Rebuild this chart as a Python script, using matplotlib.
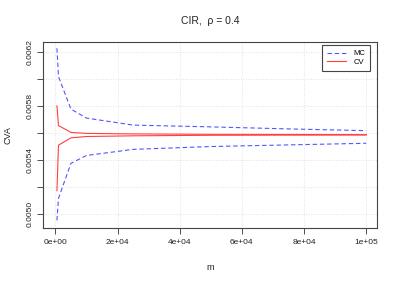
import matplotlib
matplotlib.use("Agg")
import matplotlib.pyplot as plt
from matplotlib.ticker import FixedLocator

plt.rcParams['font.family'] = ['Liberation Sans', 'DejaVu Sans']

m = [500, 1000, 5000, 10000, 25000, 50000, 75000, 100000]
mc_upper = [0.006225, 0.006016, 0.005776, 0.005710, 0.005658, 0.005645, 0.005630, 0.005617]
mc_lower = [0.004955, 0.005118, 0.005376, 0.005434, 0.005479, 0.005500, 0.005512, 0.005524]
cv_upper = [0.005800, 0.005655, 0.005604, 0.005597, 0.005593, 0.005590, 0.005589, 0.005588]
cv_lower = [0.005174, 0.005510, 0.005564, 0.005574, 0.005579, 0.005583, 0.005584, 0.005585]

xticks = [0, 20000, 40000, 60000, 80000, 100000]
xticklabels = ["0e+00", "2e+04", "4e+04", "6e+04", "8e+04", "1e+05"]
yticks = [0.0050, 0.0052, 0.0054, 0.0056, 0.0058, 0.0060, 0.0062]
yticklabels = ["0.0050", "", "0.0054", "", "0.0058", "", "0.0062"]

blue = '#5555ff'
red = '#ff4040'

fig = plt.figure(figsize=(3.99, 2.81), dpi=100)
ax = fig.add_axes([0.1078, 0.1886, 0.8371, 0.6619])

ax.plot(m, mc_upper, color=blue, lw=0.8, ls=(0, (4, 2.5)), label='MC')
ax.plot(m, mc_lower, color=blue, lw=0.8, ls=(0, (4, 2.5)))
ax.plot(m, cv_upper, color=red, lw=0.8, label='CV')
ax.plot(m, cv_lower, color=red, lw=0.8)

ax.set_xlim(-3980, 103480)
ax.set_ylim(0.004899, 0.006271)

ax.xaxis.set_major_locator(FixedLocator(xticks))
ax.set_xticklabels(xticklabels)
ax.yaxis.set_major_locator(FixedLocator(yticks))
ax.set_yticklabels(yticklabels, rotation=90, va='center')

ax.tick_params(axis='both', direction='out', length=4, width=0.6, labelsize=6, colors='#333333', labelcolor='#222222')
ax.tick_params(axis='x', pad=4)
ax.tick_params(axis='y', pad=3)
for s in ax.spines.values():
    s.set_linewidth(0.8)
    s.set_color('#444444')

ax.grid(True, color='#d8d8d8', ls=(0, (1, 2)), lw=0.6)
ax.set_axisbelow(True)

ax.set_title("CIR,  \u03c1 = 0.4", fontsize=7.5, pad=13, color='#222222')
ax.set_xlabel("m", fontsize=6.5, labelpad=12, color='#222222')
ax.set_ylabel("CVA", fontsize=6.5, labelpad=10, color='#222222')

leg = ax.legend(loc='upper right', bbox_to_anchor=(0.979, 0.984), fontsize=5.5,
                frameon=True, fancybox=False, edgecolor='#444444', framealpha=1,
                handlelength=2.4, borderpad=0.65, labelspacing=0.15, handletextpad=1.0,
                borderaxespad=0)
leg.get_frame().set_linewidth(0.8)

fig.savefig("out.png", dpi=100)
